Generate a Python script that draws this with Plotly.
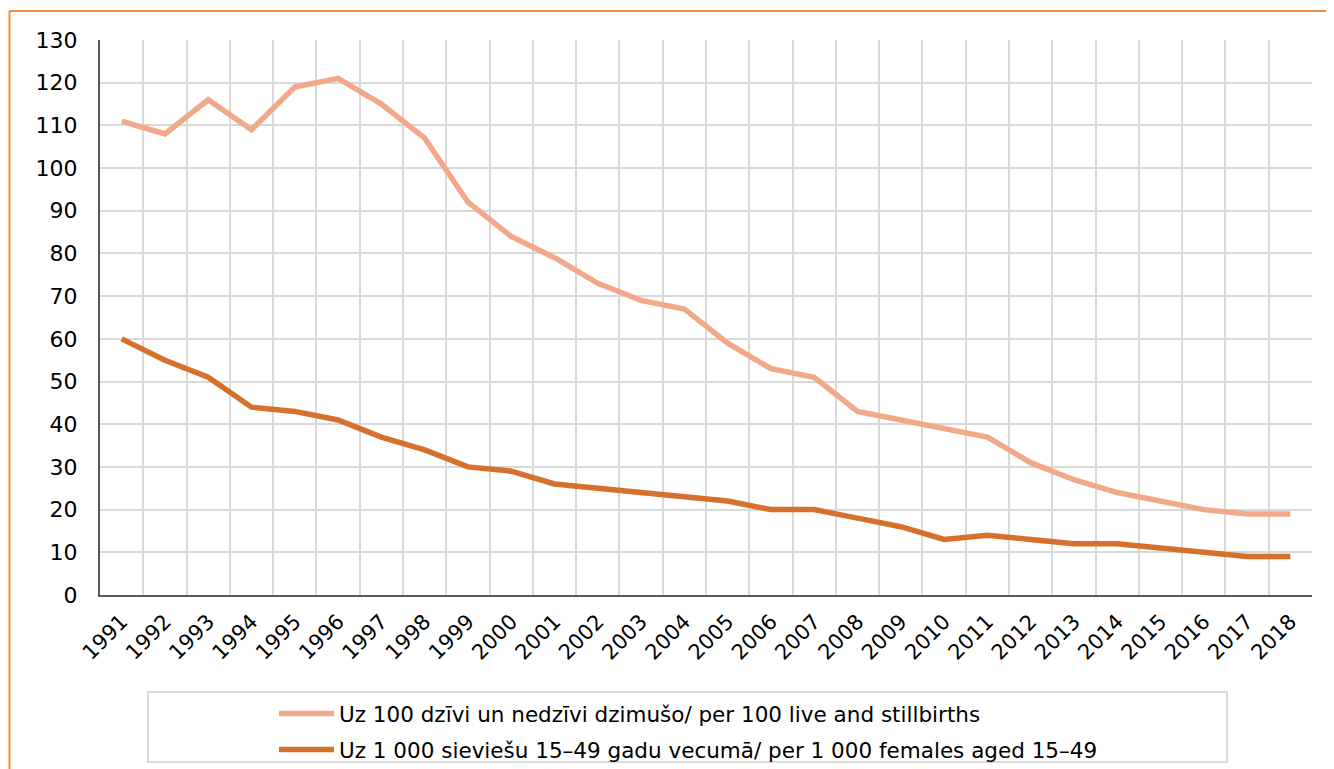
import plotly.graph_objects as go

years = [str(y) for y in range(1991, 2019)]
per_100_births = [111, 108, 116, 109, 119, 121, 115, 107, 92, 84, 79, 73, 69, 67,
                  59, 53, 51, 43, 41, 39, 37, 31, 27, 24, 22, 20, 19, 19]
per_1000_females = [60, 55, 51, 44, 43, 41, 37, 34, 30, 29, 26, 25, 24, 23,
                    22, 20, 20, 18, 16, 13, 14, 13, 12, 12, 11, 10, 9, 9]
name1 = "Uz 100 dzīvi un nedzīvi dzimušo/ per 100 live and stillbirths"
name2 = "Uz 1 000 sieviešu 15\u201349 gadu vecumā/ per 1 000 females aged 15\u201349"

OFF = 8  # page body margin
W, H = 1334, 769
ml, mt = 100 - OFF, 40 - OFF
mr = W - (1312 - OFF)
mb = H - (595 - OFF)
pw, ph = W - ml - mr, H - mt - mb

def px(x):  # page x -> paper
    return (x - OFF - ml) / pw

def py(y):  # page y -> paper
    return (H - mb - (y - OFF)) / ph

fig = go.Figure()
fig.add_trace(go.Scatter(x=years, y=per_100_births, mode="lines", name=name1,
                         legendgroup="a",
                         line=dict(color="#F2A98A", width=5.5)))
fig.add_trace(go.Scatter(x=years, y=per_1000_females, mode="lines", name=name2,
                         legendgroup="b",
                         line=dict(color="#D5702D", width=5.5)))

font = "Verdana, DejaVu Sans, sans-serif"
border = dict(color="#F08A3C", width=2)
fig.update_layout(
    width=W, height=H,
    margin=dict(l=ml, r=mr, t=mt, b=mb, autoexpand=False),
    paper_bgcolor="white", plot_bgcolor="white",
    font=dict(family=font, size=22, color="#000000"),
    showlegend=True,
    legend=dict(x=px(274), y=py(693), xanchor="left", yanchor="top",
                bgcolor="rgba(0,0,0,0)", borderwidth=0, itemwidth=55,
                font=dict(size=21.5), traceorder="grouped", tracegroupgap=5),
    xaxis=dict(type="category", tickson="boundaries", showgrid=True,
               gridcolor="#D9D9D9", gridwidth=2, showline=True, linecolor="#595959",
               linewidth=2, ticks="", tickangle=-45, tickfont=dict(size=21),
               ticklabelstandoff=4, range=[-0.5, 27.5], automargin=False),
    yaxis=dict(range=[0, 130], dtick=10, showgrid=True, gridcolor="#D9D9D9",
               gridwidth=2, showline=True, linecolor="#595959", linewidth=2,
               ticks="", tickfont=dict(size=22), zeroline=False,
               ticklabelstandoff=16, automargin=False),
    shapes=[
        dict(type="line", xref="paper", yref="paper",
             x0=px(9.5), x1=px(1400), y0=py(11), y1=py(11), line=border, layer="below"),
        dict(type="line", xref="paper", yref="paper",
             x0=px(9.5), x1=px(9.5), y0=py(11), y1=py(800), line=border, layer="below"),
        dict(type="rect", xref="paper", yref="paper",
             x0=px(148), x1=px(1227), y0=py(692), y1=py(762),
             line=dict(color="#D9D9D9", width=2), fillcolor="rgba(0,0,0,0)"),
    ],
)

fig.write_html("out.html")
